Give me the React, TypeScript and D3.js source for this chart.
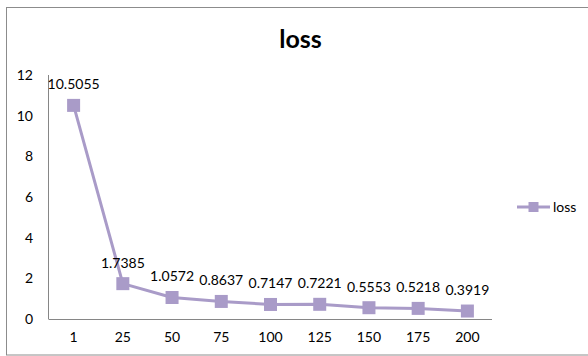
import React from "react";
import * as d3 from "d3";

const categories = ["1", "25", "50", "75", "100", "125", "150", "175", "200"];
const lossValues = [10.5055, 1.7385, 1.0572, 0.8637, 0.7147, 0.7221, 0.5553, 0.5218, 0.3919];
const yTicks = [0, 2, 4, 6, 8, 10, 12];
const seriesName = "loss";
const title = "loss";

const W = 588;
const H = 356;
const plot = { left: 49, right: 492, top: 75, bottom: 319 };
const COLOR = "#A99BC8";
const FONT = "Lato, 'Open Sans', sans-serif";

export default function App() {
  const x = d3.scaleBand<string>().domain(categories).range([plot.left, plot.right]);
  const y = d3.scaleLinear().domain([0, 12]).range([plot.bottom, plot.top]);
  const cx = (c: string) => (x(c) ?? 0) + x.bandwidth() / 2;
  const line = d3
    .line<number>()
    .x((_, i) => cx(categories[i]))
    .y((d) => y(d));
  const ms = 13;
  return (
    <svg
      width={W}
      height={H}
      style={{ position: "absolute", left: 0, top: 0, fontFamily: FONT }}
    >
      <rect x={0} y={0} width={W} height={H} fill="#fff" />
      <rect x={6.5} y={7.5} width={W + 10} height={347.5} fill="#fff" stroke="#8c8c8c" strokeWidth={1} />
      <text x={300.5} y={48} textAnchor="middle" fontSize={25} fontWeight="bold" fill="#000">
        {title}
      </text>
      {/* axes */}
      <line x1={plot.left - 0.5} x2={plot.left - 0.5} y1={plot.top} y2={plot.bottom} stroke="#868686" />
      <line x1={plot.left - 0.5} x2={plot.right} y1={plot.bottom + 0.5} y2={plot.bottom + 0.5} stroke="#868686" />
      {yTicks.map((t) => (
        <text key={t} x={33} y={y(t)} dy="0.35em" textAnchor="end" fontSize={14} fill="#000">
          {t}
        </text>
      ))}
      {categories.map((c) => (
        <text key={c} x={cx(c)} y={337} dy="0.35em" textAnchor="middle" fontSize={14} fill="#000">
          {c}
        </text>
      ))}
      <path d={line(lossValues) ?? ""} fill="none" stroke={COLOR} strokeWidth={3} strokeLinejoin="round" />
      {lossValues.map((v, i) => (
        <rect
          key={i}
          x={cx(categories[i]) - ms / 2}
          y={y(v) - ms / 2}
          width={ms}
          height={ms}
          fill={COLOR}
        />
      ))}
      {lossValues.map((v, i) => (
        <text
          key={"l" + i}
          x={cx(categories[i])}
          y={y(v) - 21}
          dy="0.35em"
          textAnchor="middle"
          fontSize={14}
          fill="#000"
        >
          {v.toFixed(4)}
        </text>
      ))}
      {/* legend */}
      <line x1={517} x2={550} y1={207} y2={207} stroke={COLOR} strokeWidth={3} />
      <rect x={533.5 - 5} y={207 - 5} width={10} height={10} fill={COLOR} />
      <text x={553} y={207} dy="0.35em" fontSize={14} fill="#000">
        {seriesName}
      </text>
    </svg>
  );
}
